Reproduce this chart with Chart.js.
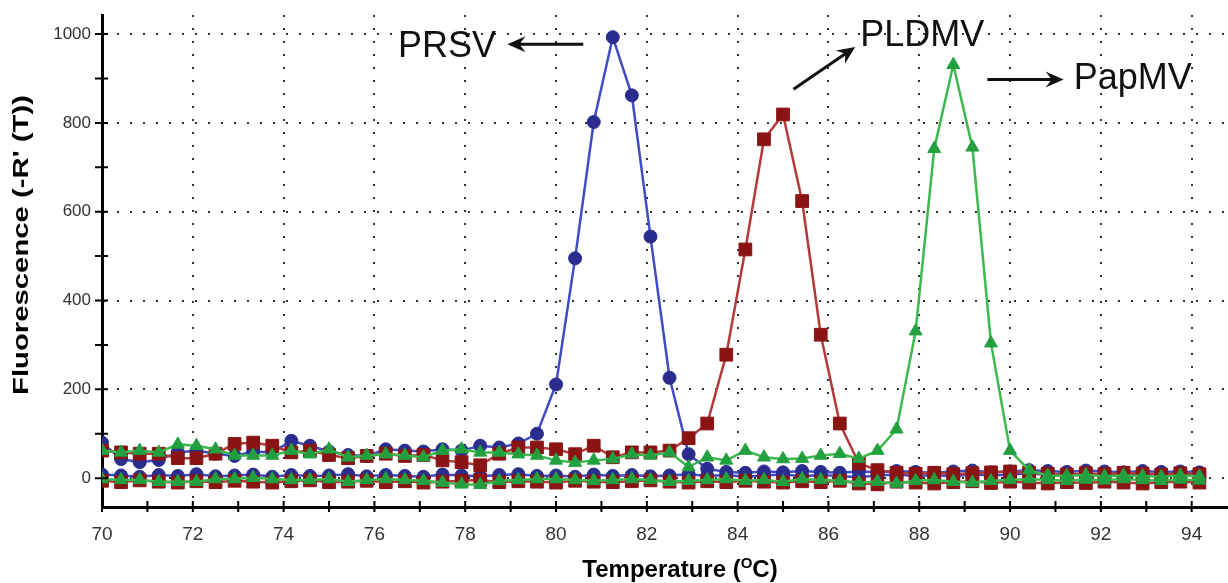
<!DOCTYPE html>
<html>
<head>
<meta charset="utf-8">
<script src="https://cdn.jsdelivr.net/npm/chart.js@4"></script>
<style>
  html, body { margin: 0; padding: 0; background: #fff; }
  canvas { display: block; }
</style>
</head>
<body>
<canvas id="meltChart" width="1228" height="583"></canvas>
<script>
// temperature steps of the melt curve (deg C)
var temps = [70.00, 70.42, 70.83, 71.25, 71.67, 72.08, 72.50, 72.92, 73.33, 73.75,
	74.17, 74.58, 75.00, 75.42, 75.83, 76.25, 76.67, 77.08, 77.50, 77.92,
	78.33, 78.75, 79.17, 79.58, 80.00, 80.42, 80.83, 81.25, 81.67, 82.08,
	82.50, 82.92, 83.33, 83.75, 84.17, 84.58, 85.00, 85.42, 85.83, 86.25,
	86.67, 87.08, 87.50, 87.92, 88.33, 88.75, 89.17, 89.58, 90.00, 90.42,
	90.83, 91.25, 91.67, 92.08, 92.50, 92.92, 93.33, 93.75, 94.17];

// samples with a peak
var prsvPeak = [80, 43, 36, 41, 58, 62, 55, 50, 60, 58,
	84, 73, 60, 52, 50, 65, 62, 60, 65, 62,
	73, 69, 78, 100, 211, 495, 802, 993, 862, 544,
	226, 54, 21, 14, 12, 15, 13, 16, 14, 12,
	15, 13, 16, 14, 12, 15, 17, 13, 15, 18,
	16, 14, 17, 15, 13, 16, 14, 15, 13];
var pldmvPeak = [62, 58, 55, 55, 45, 45, 55, 77, 80, 73,
	58, 62, 52, 45, 50, 55, 50, 52, 40, 36,
	29, 55, 69, 69, 65, 54, 73, 47, 58, 58,
	62, 90, 123, 278, 515, 763, 819, 624, 323, 123,
	33, 18, 12, 10, 12, 9, 11, 13, 15, 12,
	10, 8, 11, 9, 12, 10, 8, 11, 9];
var papmvPeak = [62, 58, 62, 58, 76, 73, 65, 51, 51, 51,
	62, 54, 65, 47, 51, 54, 51, 47, 62, 65,
	58, 58, 54, 51, 40, 35, 40, 43, 54, 51,
	58, 25, 47, 40, 62, 47, 43, 44, 51, 55,
	44, 62, 110, 331, 742, 931, 745, 304, 62, 18,
	6, 5, 7, 4, 6, 5, 3, 6, 4];

// flat traces near zero
var prsvFlat = [8, 6, 3, 7, 5, 9, 4, 6, 8, 3,
	7, 5, 6, 9, 4, 7, 5, 3, 8, 6,
	4, 7, 9, 5, 6, 3, 8, 5, 7, 4,
	6, 9, 5, 7, 3, 6, 8, 4, 7, 5,
	2, 6, 8, 5, 7, 4, 9, 6, 8, 11,
	7, 10, 6, 9, 5, 11, 7, 9, 6];
var pldmvFlat = [-6, -9, -5, -8, -10, -7, -9, -6, -8, -10,
	-7, -5, -9, -8, -6, -9, -7, -10, -8, -6,
	-4, -9, -7, -8, -10, -6, -8, -9, -7, -5,
	-8, -10, -7, -9, -6, -8, -10, -7, -9, -6,
	-12, -14, -8, -10, -12, -9, -7, -11, -8, -10,
	-12, -9, -11, -8, -10, -12, -9, -8, -10];
var papmvFlat = [-2, -4, -4, -8, -8, -8, -2, -2, 1, -2,
	-4, -4, -2, -8, -4, -2, -4, -6, -10, -14,
	-15, -6, -4, -2, -2, -4, -6, -4, -2, -4,
	-8, -6, -4, -2, -6, -4, -8, -2, -4, -6,
	-10, -8, -12, -6, -4, -8, -10, -6, -4, -2,
	-4, -6, -3, -5, -2, -4, -6, -3, -5];

var xTickLabels = [70, 72, 74, 76, 78, 80, 82, 84, 86, 88, 90, 92, 94];
var yTickLabels = [0, 200, 400, 600, 800, 1000];

// text labels and arrows, in data units
var peakLabels = [
	{ text: "PRSV", x: 76.52, y: 948 },
	{ text: "PLDMV", x: 86.70, y: 973 },
	{ text: "PapMV", x: 91.40, y: 876 }
];
var peakArrows = [
	{ from: [80.60, 977], to: [78.93, 977] },
	{ from: [85.23, 876], to: [86.59, 971] },
	{ from: [89.50, 898], to: [91.18, 898] }
];

function toPoints(ys) {
	return temps.map(function (t, i) { return { x: t, y: ys[i] }; });
}

function series(ys, line, fill, shape, r) {
	return {
		data: toPoints(ys),
		borderColor: line,
		borderWidth: 2.5,
		pointStyle: shape,
		pointRadius: r,
		pointBackgroundColor: fill,
		pointBorderColor: fill,
		pointBorderWidth: 1,
		tension: 0
	};
}

var blueLine = "#3f4cc4", blueDot = "#2b2d8e";
var redLine = "#b33a3a", redDot = "#8a1414";
var greenLine = "#3cb84e", greenDot = "#22a040";

var decorPlugin = {
	id: "decor",
	afterDraw: function (chart) {
		var ctx = chart.ctx;
		var xs = chart.scales.x, ys = chart.scales.y;
		var area = chart.chartArea;
		ctx.save();
		// tick marks across the axis lines
		ctx.strokeStyle = "#000";
		ctx.lineWidth = 2;
		ctx.beginPath();
		for (var t = 70; t <= 94; t++) {
			var px = xs.getPixelForValue(t);
			ctx.moveTo(px, area.bottom - 6);
			ctx.lineTo(px, area.bottom + 5);
		}
		for (var v = 0; v <= 1000; v += 100) {
			var py = ys.getPixelForValue(v);
			ctx.moveTo(area.left - 7, py);
			ctx.lineTo(area.left + 6, py);
		}
		ctx.stroke();

		// axis titles
		ctx.fillStyle = "#000";
		ctx.font = "bold 22px 'Liberation Sans', Arial, sans-serif";
		ctx.textAlign = "center";
		ctx.textBaseline = "middle";
		var yTitle = "Fluorescence (-R' (T))";
		var stretch = 300 / ctx.measureText(yTitle).width;
		ctx.save();
		ctx.translate(22, 245);
		ctx.rotate(-Math.PI / 2);
		ctx.scale(stretch, 1);
		ctx.fillText(yTitle, 0, 0);
		ctx.restore();

		var big = "bold 24px 'Liberation Sans', Arial, sans-serif";
		var small = "bold 15px 'Liberation Sans', Arial, sans-serif";
		ctx.textAlign = "left";
		ctx.textBaseline = "alphabetic";
		ctx.font = big;
		var a = "Temperature (", c = "C)";
		var wa = ctx.measureText(a).width, wc = ctx.measureText(c).width;
		ctx.font = small;
		var wo = ctx.measureText("O").width;
		var x0 = 680 - (wa + wo + wc) / 2, base = 577;
		ctx.font = big;
		ctx.fillText(a, x0, base);
		ctx.font = small;
		ctx.fillText("O", x0 + wa, base - 9);
		ctx.font = big;
		ctx.fillText(c, x0 + wa + wo, base);

		// peak labels
		ctx.font = "36px 'Liberation Sans', Arial, sans-serif";
		ctx.fillStyle = "#111";
		peakLabels.forEach(function (l) {
			ctx.fillText(l.text, xs.getPixelForValue(l.x), ys.getPixelForValue(l.y));
		});

		// arrows
		ctx.strokeStyle = "#111";
		ctx.lineWidth = 3;
		peakArrows.forEach(function (ar) {
			var x1 = xs.getPixelForValue(ar.from[0]), y1 = ys.getPixelForValue(ar.from[1]);
			var x2 = xs.getPixelForValue(ar.to[0]), y2 = ys.getPixelForValue(ar.to[1]);
			var ang = Math.atan2(y2 - y1, x2 - x1);
			ctx.beginPath();
			ctx.moveTo(x1, y1);
			ctx.lineTo(x2 - 8 * Math.cos(ang), y2 - 8 * Math.sin(ang));
			ctx.stroke();
			ctx.save();
			ctx.translate(x2, y2);
			ctx.rotate(ang);
			ctx.beginPath();
			ctx.moveTo(0, 0);
			ctx.lineTo(-18, -8);
			ctx.lineTo(-12, 0);
			ctx.lineTo(-18, 8);
			ctx.closePath();
			ctx.fillStyle = "#111";
			ctx.fill();
			ctx.restore();
		});
		ctx.restore();
	}
};

var ctx = document.getElementById("meltChart").getContext("2d");
var meltChart = new Chart(ctx, {
	type: "line",
	data: {
		datasets: [
			series(papmvPeak, greenLine, greenDot, "triangle", 7.5),
			series(papmvFlat, greenLine, greenDot, "triangle", 7.5),
			series(pldmvPeak, redLine, redDot, "rect", 9),
			series(pldmvFlat, redLine, redDot, "rect", 9),
			series(prsvPeak, blueLine, blueDot, "circle", 6.5),
			series(prsvFlat, blueLine, blueDot, "circle", 6.5)
		]
	},
	options: {
		responsive: false,
		animation: false,
		devicePixelRatio: 1,
		layout: { autoPadding: false, padding: { top: 15, right: 0, left: 0, bottom: 0 } },
		plugins: {
			legend: { display: false },
			tooltip: { enabled: false }
		},
		scales: {
			x: {
				type: "linear",
				min: 70,
				max: 94.8,
				afterBuildTicks: function (scale) {
					scale.ticks = xTickLabels.map(function (v) { return { value: v }; });
				},
				afterFit: function (scale) {
					scale.height = 76;
					scale.paddingLeft = 0;
					scale.paddingRight = 0;
				},
				ticks: {
					color: "#333",
					font: { family: "'Liberation Sans', Arial, sans-serif", size: 19 },
					padding: 16,
					maxRotation: 0,
					autoSkip: false
				},
				grid: {
					color: function (c) { return c.tick && c.tick.value === 70 ? "rgba(0,0,0,0)" : "#333"; },
					lineWidth: 2,
					drawTicks: false
				},
				border: { display: true, color: "#000", width: 3, dash: [2, 11] }
			},
			y: {
				min: -65,
				max: 1043,
				afterBuildTicks: function (scale) {
					scale.ticks = yTickLabels.map(function (v) { return { value: v }; });
				},
				afterFit: function (scale) {
					scale.width = 102;
					scale.paddingTop = 0;
					scale.paddingBottom = 0;
				},
				ticks: {
					color: "#333",
					font: { family: "'Liberation Sans', Arial, sans-serif", size: 17 },
					padding: 11,
					callback: function (v) { return String(v); }
				},
				grid: {
					color: "#333",
					lineWidth: 2,
					drawTicks: false
				},
				border: { display: true, color: "#000", width: 3, dash: [2, 11] }
			}
		}
	},
	plugins: [decorPlugin]
});
</script>
</body>
</html>
